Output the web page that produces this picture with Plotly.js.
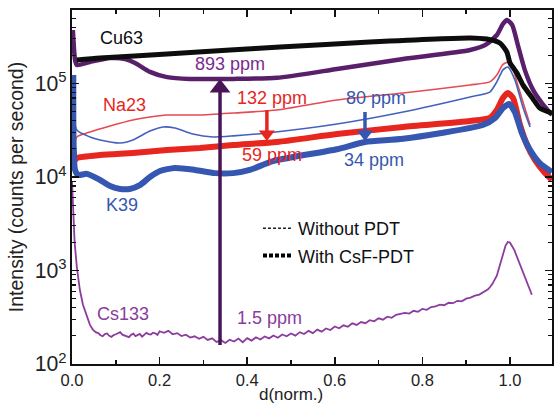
<!DOCTYPE html>
<html>
<head>
<meta charset="utf-8">
<script src="https://cdn.plot.ly/plotly-3.0.1.min.js"></script>
<style>
html,body{margin:0;padding:0;background:#fff;}
#chart{width:554px;height:405px;}
</style>
</head>
<body>
<div id="chart"></div>
<script>
// ---- data (d normalized, intensity in counts per second) ----
const cuX = [0.011, 0.064, 0.217, 0.361, 0.475, 0.680, 0.909, 0.947, 0.977, 0.993, 1.000, 1.016, 1.030, 1.053, 1.068, 1.096];
const cuY = [178000, 187000, 207000, 228000, 245000, 278000, 307000, 299000, 271000, 217000, 166000, 129000, 96000, 68000, 54700, 48300];

const csPdtX = [0.002, 0.007, 0.011, 0.041, 0.087, 0.121, 0.144, 0.178, 0.217, 0.269, 0.368, 0.468, 0.605, 0.756, 0.909, 0.947, 0.970, 0.984, 0.993, 1.005, 1.018, 1.034, 1.053, 1.073, 1.096];
const csPdtY = [373000, 178000, 158000, 170000, 187000, 183000, 166000, 133000, 117000, 112000, 112000, 115000, 143000, 183000, 228000, 264000, 330000, 433000, 477000, 423000, 258000, 139000, 85000, 61800, 46000];

const naRefX = [0.005, 0.011, 0.041, 0.087, 0.139, 0.178, 0.217, 0.292, 0.368, 0.468, 0.605, 0.756, 0.909, 0.954, 0.970, 0.984, 1.000, 1.018, 1.034, 1.046];
const naRefY = [22000, 26800, 30300, 35100, 40700, 43800, 46000, 46000, 48300, 52100, 66600, 79000, 96400, 104000, 123000, 160000, 170000, 96000, 54700, 36000];

const kRefX = [0.002, 0.011, 0.041, 0.064, 0.110, 0.139, 0.178, 0.208, 0.235, 0.276, 0.322, 0.368, 0.445, 0.605, 0.756, 0.909, 0.954, 0.970, 0.984, 0.995, 1.011, 1.030, 1.046];
const kRefY = [66600, 31800, 26800, 24900, 23100, 24900, 31000, 34300, 33400, 28800, 26800, 27500, 29600, 36900, 49600, 71800, 81000, 104000, 140000, 150000, 110000, 55000, 34300];

const naPdtX = [0.001, 0.007, 0.011, 0.064, 0.139, 0.217, 0.292, 0.368, 0.468, 0.605, 0.756, 0.909, 0.954, 0.970, 0.984, 0.995, 1.007, 1.023, 1.039, 1.057, 1.080, 1.096];
const naPdtY = [24900, 15200, 16000, 17200, 18100, 19400, 20400, 22000, 23700, 28800, 34300, 39700, 42800, 52100, 70000, 79000, 70000, 36000, 22000, 15200, 11000, 9300];

const kPdtX = [0.003, 0.007, 0.014, 0.034, 0.064, 0.087, 0.110, 0.132, 0.155, 0.178, 0.201, 0.235, 0.281, 0.326, 0.368, 0.406, 0.459, 0.605, 0.669, 0.756, 0.938, 0.966, 0.984, 0.998, 1.011, 1.027, 1.046, 1.068, 1.096];
const kPdtY = [123000, 11900, 10500, 10800, 9290, 8010, 7450, 7450, 8200, 10000, 11600, 12500, 11900, 11000, 11000, 11900, 14800, 19800, 23700, 25600, 36000, 42800, 54700, 60400, 49600, 29600, 19400, 14100, 11300];

const csRefX = [0.000, 0.003, 0.006, 0.011, 0.018, 0.025, 0.034, 0.041, 0.048, 0.055,
  0.06, 0.065, 0.07, 0.075, 0.08, 0.085, 0.09, 0.095, 0.10, 0.105, 0.11, 0.115, 0.12, 0.125,
  0.13, 0.135, 0.14, 0.145, 0.15, 0.155, 0.16, 0.165, 0.17, 0.175, 0.18, 0.185, 0.19, 0.195,
  0.20, 0.21, 0.22, 0.23, 0.24, 0.25, 0.26, 0.27, 0.28, 0.29, 0.30, 0.31, 0.32, 0.33,
  0.34, 0.35, 0.36, 0.37, 0.38, 0.39, 0.40, 0.41, 0.42, 0.43, 0.44, 0.45, 0.46, 0.47,
  0.48, 0.49, 0.50, 0.51, 0.52, 0.53, 0.54, 0.55, 0.56, 0.57, 0.58, 0.59, 0.60, 0.61,
  0.62, 0.63, 0.64, 0.65, 0.66, 0.67, 0.68, 0.69, 0.70, 0.71, 0.72, 0.73, 0.74, 0.75,
  0.76, 0.77, 0.78, 0.79, 0.80, 0.81, 0.82, 0.83, 0.84, 0.85, 0.86, 0.87, 0.88, 0.89,
  0.90, 0.91, 0.92, 0.93, 0.94, 0.95, 0.955, 0.96, 0.97, 0.98, 0.99, 0.995, 1.00, 1.01,
  1.02, 1.03, 1.04, 1.05];
const csRefY = [9000, 3500, 2000, 1090, 618, 430, 318, 262, 232, 218,
  214, 203, 198, 209, 212, 200, 195, 204, 208, 213, 219, 206, 201, 197,
  194, 205, 211, 199, 203, 210, 196, 206, 215, 209, 207, 216, 213, 205,
  224, 216, 226, 208, 214, 199, 206, 192, 198, 186, 195, 181, 188, 172,
  180, 168, 182, 174, 187, 171, 189, 178, 193, 183, 197, 188, 202, 191,
  207, 198, 212, 201, 219, 209, 226, 214, 233, 222, 240, 231, 252, 241,
  259, 250, 272, 262, 281, 273, 294, 286, 308, 298, 321, 312, 336, 344,
  352, 346, 371, 362, 389, 380, 407, 414, 431, 425, 452, 447, 474, 468,
  500, 512, 538, 552, 585, 630, 670, 720, 880, 1250, 1850, 2020, 1990, 1650,
  1250, 940, 720, 550];

// arrows: reference level -> CsF-PDT level
const arrowX = [0.338, 0.445, 0.669];
const arrowFrom = [160, 52100, 49600];
const arrowTo = [89600, 28800, 28800];

const xTickVals = [0, 0.2, 0.4, 0.6, 0.8, 1.0];
const legendNames = ["Without PDT", "With CsF-PDT"];

const FONT = "Liberation Sans, Arial, sans-serif";
const RED = "#e6261f", BLUE = "#3557b1", PURPLE_DK = "#5a1f6b", PURPLE = "#8b3c9c", BLACK = "#0d0d0d";
const arrowColors = ["#4a1556", RED, BLUE];
const arrowHeadSize = [18, 14, 14];
const arrowSymbols = ["triangle-up", "triangle-down", "triangle-down"];

function tr(x, y, color, width) {
  return {x: x, y: y, type: "scatter", mode: "lines",
    line: {color: color, width: width, shape: "spline", smoothing: 0.6},
    showlegend: false, hoverinfo: "skip"};
}

const traces = [
  tr(naRefX, naRefY, "#e64a52", 1.6),
  tr(kRefX, kRefY, "#4460bf", 1.6),
  tr(naPdtX, naPdtY, RED, 6),
  tr(kPdtX, kPdtY, BLUE, 6),
  tr(csPdtX, csPdtY, PURPLE_DK, 4.5),
  tr(cuX, cuY, BLACK, 5),
  {x: csRefX, y: csRefY, type: "scatter", mode: "lines",
    line: {color: PURPLE, width: 1.8}, showlegend: false, hoverinfo: "skip"}
];

arrowX.forEach(function (ax, i) {
  traces.push({x: [ax, ax], y: [arrowFrom[i], arrowTo[i]], type: "scatter", mode: "lines",
    line: {color: arrowColors[i], width: 3.5}, showlegend: false, hoverinfo: "skip"});
  traces.push({x: [ax], y: [arrowTo[i]], type: "scatter", mode: "markers",
    marker: {symbol: arrowSymbols[i], size: arrowHeadSize[i], color: arrowColors[i]},
    showlegend: false, hoverinfo: "skip"});
});

traces.push(
  {x: [null], y: [null], type: "scatter", mode: "lines", name: legendNames[0],
    line: {color: "#222", width: 1.6, dash: "3px,2px"}, legendgroup: "a"},
  {x: [null], y: [null], type: "scatter", mode: "lines", name: legendNames[1],
    line: {color: "#000", width: 4, dash: "4px,2px"}, legendgroup: "b"}
);

function lbl(text, x, ly, color) {
  return {text: text, x: x, y: ly, xref: "x", yref: "y", showarrow: false,
    font: {family: FONT, size: 18, color: color}, xanchor: "center", yanchor: "middle"};
}

const annotations = [
  lbl("Cu63", 0.113, 5.487, BLACK),
  lbl("893 ppm", 0.361, 5.209, "#7b2a8f"),
  lbl("Na23", 0.119, 4.770, RED),
  lbl("132 ppm", 0.457, 4.845, RED),
  lbl("80 ppm", 0.694, 4.845, BLUE),
  lbl("59 ppm", 0.457, 4.235, RED),
  lbl("34 ppm", 0.690, 4.182, BLUE),
  lbl("K39", 0.115, 3.701, BLUE),
  lbl("Cs133", 0.117, 2.535, PURPLE),
  lbl("1.5 ppm", 0.450, 2.492, PURPLE),
  {text: "d(norm.)", xref: "paper", yref: "paper", x: 0.456, y: -0.085,
    showarrow: false, xanchor: "center", yanchor: "middle", borderpad: 0,
    font: {family: FONT, size: 17, color: "#222"}}
];

const layout = {
  width: 554, height: 405,
  margin: {l: 72, r: 2, t: 10, b: 41},
  paper_bgcolor: "#fff", plot_bgcolor: "#fff",
  font: {family: FONT, color: "#222"},
  xaxis: {
    range: [0, 1.096], tickvals: xTickVals, tickformat: ".1f",
    ticks: "inside", ticklen: 7, tickwidth: 1.5, tickcolor: "#111",
    minor: {dtick: 0.1, tick0: 0, ticks: "inside", ticklen: 4, tickwidth: 1.5, tickcolor: "#111"},
    showline: true, linewidth: 2, linecolor: "#111", mirror: "ticks",
    showgrid: false, zeroline: false,
    tickfont: {family: FONT, size: 16.5, color: "#222"}
  },
  yaxis: {
    type: "log", range: [2, 5.786], dtick: 1, exponentformat: "power",
    ticks: "inside", ticklen: 7, tickwidth: 1.5, tickcolor: "#111",
    minor: {ticks: "inside", ticklen: 4, tickwidth: 1.2, tickcolor: "#111", dtick: "D1"},
    showline: true, linewidth: 2, linecolor: "#111", mirror: "ticks",
    showgrid: false, zeroline: false,
    tickfont: {family: FONT, size: 17, color: "#222"},
    title: {text: "Intensity (counts per second)", font: {family: FONT, size: 19.5, color: "#222"}, standoff: 6}
  },
  showlegend: true,
  legend: {x: 0.3875, y: 0.435, xanchor: "left", yanchor: "top", bgcolor: "rgba(0,0,0,0)",
    font: {family: FONT, size: 18, color: "#111"}, itemwidth: 30, traceorder: "grouped",
    tracegroupgap: 1},
  annotations: annotations
};

Plotly.newPlot("chart", traces, layout, {displayModeBar: false, staticPlot: true});
</script>
</body>
</html>
